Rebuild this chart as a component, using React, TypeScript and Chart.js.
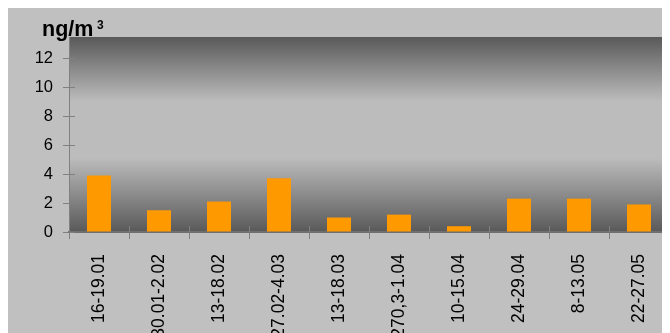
import React, { useEffect, useRef } from "react";
import { Chart, registerables } from "chart.js";

Chart.register(...registerables);

const periods = [
  "16-19.01",
  "30.01-2.02",
  "13-18.02",
  "27.02-4.03",
  "13-18.03",
  "270,3-1.04",
  "10-15.04",
  "24-29.04",
  "8-13.05",
  "22-27.05",
];
const concentrations = [3.9, 1.5, 2.1, 3.7, 1.0, 1.2, 0.4, 2.3, 2.3, 1.9];
const yTickValues = [0, 2, 4, 6, 8, 10, 12];

const FONT = "'Liberation Sans', Arial, Helvetica, sans-serif";
const TICK_COLOR = "#808080";

// The sheet is larger than the window; the window only shows its upper-left part
const SHEET_W = 700;
const SHEET_H = 360;

// Canvas background, shaded plot area and the unit label
const backdrop = {
  id: "backdrop",
  beforeDraw(chart: any) {
    const { ctx, chartArea: a, width, height } = chart;
    ctx.save();
    ctx.fillStyle = "#c0c0c0";
    ctx.fillRect(0, 0, width, height);
    const g = ctx.createLinearGradient(0, a.top, 0, a.bottom);
    g.addColorStop(0, "#595959");
    g.addColorStop(0.33, "#bcbcbc");
    g.addColorStop(0.62, "#bcbcbc");
    g.addColorStop(1, "#595959");
    ctx.fillStyle = g;
    ctx.fillRect(a.left, a.top, a.right - a.left, a.bottom - a.top);

    ctx.fillStyle = "#000";
    ctx.textBaseline = "alphabetic";
    ctx.font = `bold 21.5px ${FONT}`;
    ctx.fillText("ng/m", 34, 28);
    ctx.font = `bold 12px ${FONT}`;
    ctx.fillText("3", 89, 21);
    ctx.restore();
  },
};

// Tick marks crossing the axes into the plot area
const innerTicks = {
  id: "innerTicks",
  afterDatasetsDraw(chart: any) {
    const { ctx, chartArea: a } = chart;
    const x = chart.scales.x;
    const y = chart.scales.y;
    ctx.save();
    ctx.strokeStyle = TICK_COLOR;
    ctx.lineWidth = 1;
    ctx.beginPath();
    y.ticks.forEach((_: any, i: number) => {
      const py = Math.round(y.getPixelForTick(i)) + 0.5;
      ctx.moveTo(a.left, py);
      ctx.lineTo(a.left + 6, py);
    });
    const n = x.ticks.length;
    const step = (a.right - a.left) / n;
    for (let i = 0; i <= n; i++) {
      const px = Math.round(a.left + i * step) + 0.5;
      ctx.moveTo(px, a.bottom - 6);
      ctx.lineTo(px, a.bottom);
    }
    ctx.stroke();
    ctx.restore();
  },
};

export default function App() {
  const ref = useRef<HTMLCanvasElement>(null);

  useEffect(() => {
    document.documentElement.style.overflow = "hidden";
    document.body.style.overflow = "hidden";
    if (!ref.current) return;
    const chart = new Chart(ref.current, {
      type: "bar",
      data: {
        labels: periods,
        datasets: [
          {
            data: concentrations,
            backgroundColor: "#ff9900",
            borderWidth: 0,
            barPercentage: 0.4,
            categoryPercentage: 1,
          },
        ],
      },
      plugins: [backdrop, innerTicks],
      options: {
        animation: false,
        responsive: true,
        maintainAspectRatio: false,
        devicePixelRatio: 1,
        layout: { padding: { top: 29, left: 0, right: SHEET_W - 661, bottom: 0 } },
        plugins: {
          legend: { display: false },
          tooltip: { enabled: false },
          title: { display: false },
        },
        scales: {
          x: {
            afterFit(scale: any) {
              scale.height = SHEET_H - 224;
            },
            grid: {
              display: true,
              drawOnChartArea: false,
              drawTicks: true,
              tickLength: 7,
              color: TICK_COLOR,
              offset: true,
            },
            border: { display: true, color: "#6f6f6f", width: 2 },
            ticks: {
              autoSkip: false,
              minRotation: 90,
              maxRotation: 90,
              padding: 15,
              color: "#000",
              font: { family: FONT, size: 17.5 },
            },
          },
          y: {
            min: 0,
            max: 13.45,
            afterFit(scale: any) {
              scale.width = 61;
            },
            afterBuildTicks(scale: any) {
              scale.ticks = yTickValues.map((v) => ({ value: v }));
            },
            grid: {
              display: true,
              drawOnChartArea: false,
              drawTicks: true,
              tickLength: 6,
              color: TICK_COLOR,
            },
            border: { display: true, color: TICK_COLOR, width: 1 },
            ticks: {
              padding: 10,
              color: "#000",
              font: { family: FONT, size: 16.5 },
            },
          },
        },
      },
    });
    return () => chart.destroy();
  }, []);

  return (
    <div style={{ position: "relative", width: SHEET_W, height: SHEET_H }}>
      <canvas ref={ref} />
    </div>
  );
}
